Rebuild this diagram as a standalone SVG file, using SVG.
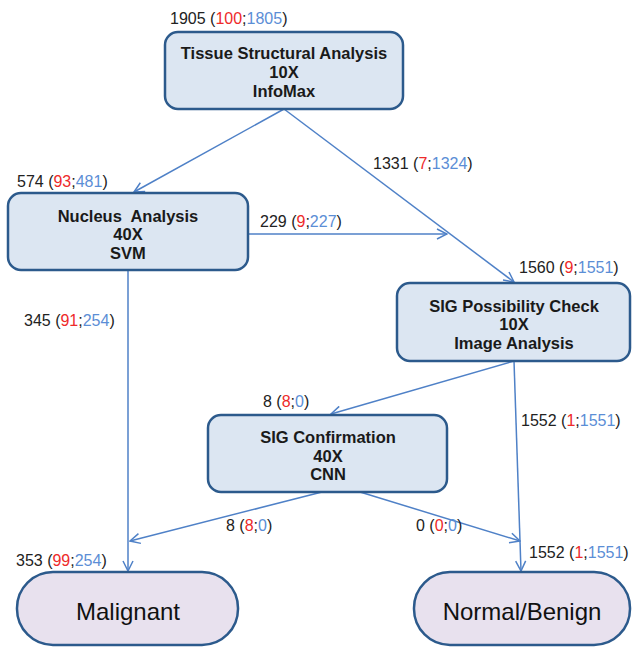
<svg xmlns="http://www.w3.org/2000/svg" width="632" height="649" viewBox="0 0 632 649">
<defs>
<marker id="arr" viewBox="0 0 12 12" refX="11" refY="6" markerWidth="12" markerHeight="12" markerUnits="userSpaceOnUse" orient="auto">
<polyline points="1,1 11,6 1,11" fill="none" stroke="#4f81c7" stroke-width="1.5"/>
</marker>
<style>
.box{fill:#dce6f2;stroke:#2c5a8c;stroke-width:2.5}
.pill{fill:#e8e1ee;stroke:#2c5a8c;stroke-width:2.5}
.bt{font-family:"Liberation Sans",Arial,sans-serif;font-weight:bold;font-size:16.5px;fill:#1a1a1a;text-anchor:middle}
.lt{font-family:"Liberation Sans",Arial,sans-serif;font-size:16px;fill:#222}
.pt{font-family:"Liberation Sans",Arial,sans-serif;font-size:24px;fill:#111;text-anchor:middle}
.r{fill:#ee2a2a}
.b{fill:#5b8ed6}
.c{fill:none;stroke:#4f81c7;stroke-width:1.5;marker-end:url(#arr)}
</style>
</defs>
<g id="connectors">
<line class="c" x1="284" y1="109" x2="134" y2="192"/>
<line class="c" x1="284" y1="109" x2="514" y2="282"/>
<line class="c" x1="248" y1="234" x2="447" y2="234"/>
<line class="c" x1="128" y1="270" x2="128" y2="571"/>
<line class="c" x1="514" y1="361" x2="331" y2="414"/>
<line class="c" x1="514" y1="361" x2="521" y2="571"/>
<line class="c" x1="322" y1="492" x2="130" y2="541"/>
<line class="c" x1="360" y1="492" x2="520" y2="541"/>
</g>
<g id="labels">
<text class="lt" x="170" y="24">1905 (<tspan class="r">100</tspan>;<tspan class="b">1805</tspan>)</text>
<text class="lt" x="17" y="187">574 (<tspan class="r">93</tspan>;<tspan class="b">481</tspan>)</text>
<text class="lt" x="373" y="169">1331 (<tspan class="r">7</tspan>;<tspan class="b">1324</tspan>)</text>
<text class="lt" x="260" y="227">229 (<tspan class="r">9</tspan>;<tspan class="b">227</tspan>)</text>
<text class="lt" x="519" y="273">1560 (<tspan class="r">9</tspan>;<tspan class="b">1551</tspan>)</text>
<text class="lt" x="24" y="326">345 (<tspan class="r">91</tspan>;<tspan class="b">254</tspan>)</text>
<text class="lt" x="263" y="407">8 (<tspan class="r">8</tspan>;<tspan class="b">0</tspan>)</text>
<text class="lt" x="521" y="426">1552 (<tspan class="r">1</tspan>;<tspan class="b">1551</tspan>)</text>
<text class="lt" x="226" y="531">8 (<tspan class="r">8</tspan>;<tspan class="b">0</tspan>)</text>
<text class="lt" x="416" y="531">0 (<tspan class="r">0</tspan>;<tspan class="b">0</tspan>)</text>
<text class="lt" x="16" y="566">353 (<tspan class="r">99</tspan>;<tspan class="b">254</tspan>)</text>
<text class="lt" x="529" y="558">1552 (<tspan class="r">1</tspan>;<tspan class="b">1551</tspan>)</text>
</g>
<g id="tissue">
<rect class="box" x="165" y="32" width="238" height="77" rx="13"/>
<text class="bt" x="284" y="59">Tissue Structural Analysis</text>
<text class="bt" x="284" y="78">10X</text>
<text class="bt" x="284" y="97">InfoMax</text>
</g>
<g id="nucleus">
<rect class="box" x="8" y="193" width="240" height="77" rx="13"/>
<text class="bt" x="128" y="222" xml:space="preserve">Nucleus  Analysis</text>
<text class="bt" x="128" y="240">40X</text>
<text class="bt" x="128" y="259">SVM</text>
</g>
<g id="possibility">
<rect class="box" x="397" y="283" width="233" height="78" rx="13"/>
<text class="bt" x="514" y="312">SIG Possibility Check</text>
<text class="bt" x="514" y="330">10X</text>
<text class="bt" x="514" y="349">Image Analysis</text>
</g>
<g id="confirmation">
<rect class="box" x="208" y="415" width="239" height="77" rx="13"/>
<text class="bt" x="328" y="443">SIG Confirmation</text>
<text class="bt" x="328" y="462">40X</text>
<text class="bt" x="328" y="480">CNN</text>
</g>
<g id="malignant">
<rect class="pill" x="17" y="572" width="221" height="73" rx="36"/>
<text class="pt" x="128" y="620">Malignant</text>
</g>
<g id="normal">
<rect class="pill" x="414" y="572" width="216" height="73" rx="36"/>
<text class="pt" x="522" y="620">Normal/Benign</text>
</g>
</svg>
